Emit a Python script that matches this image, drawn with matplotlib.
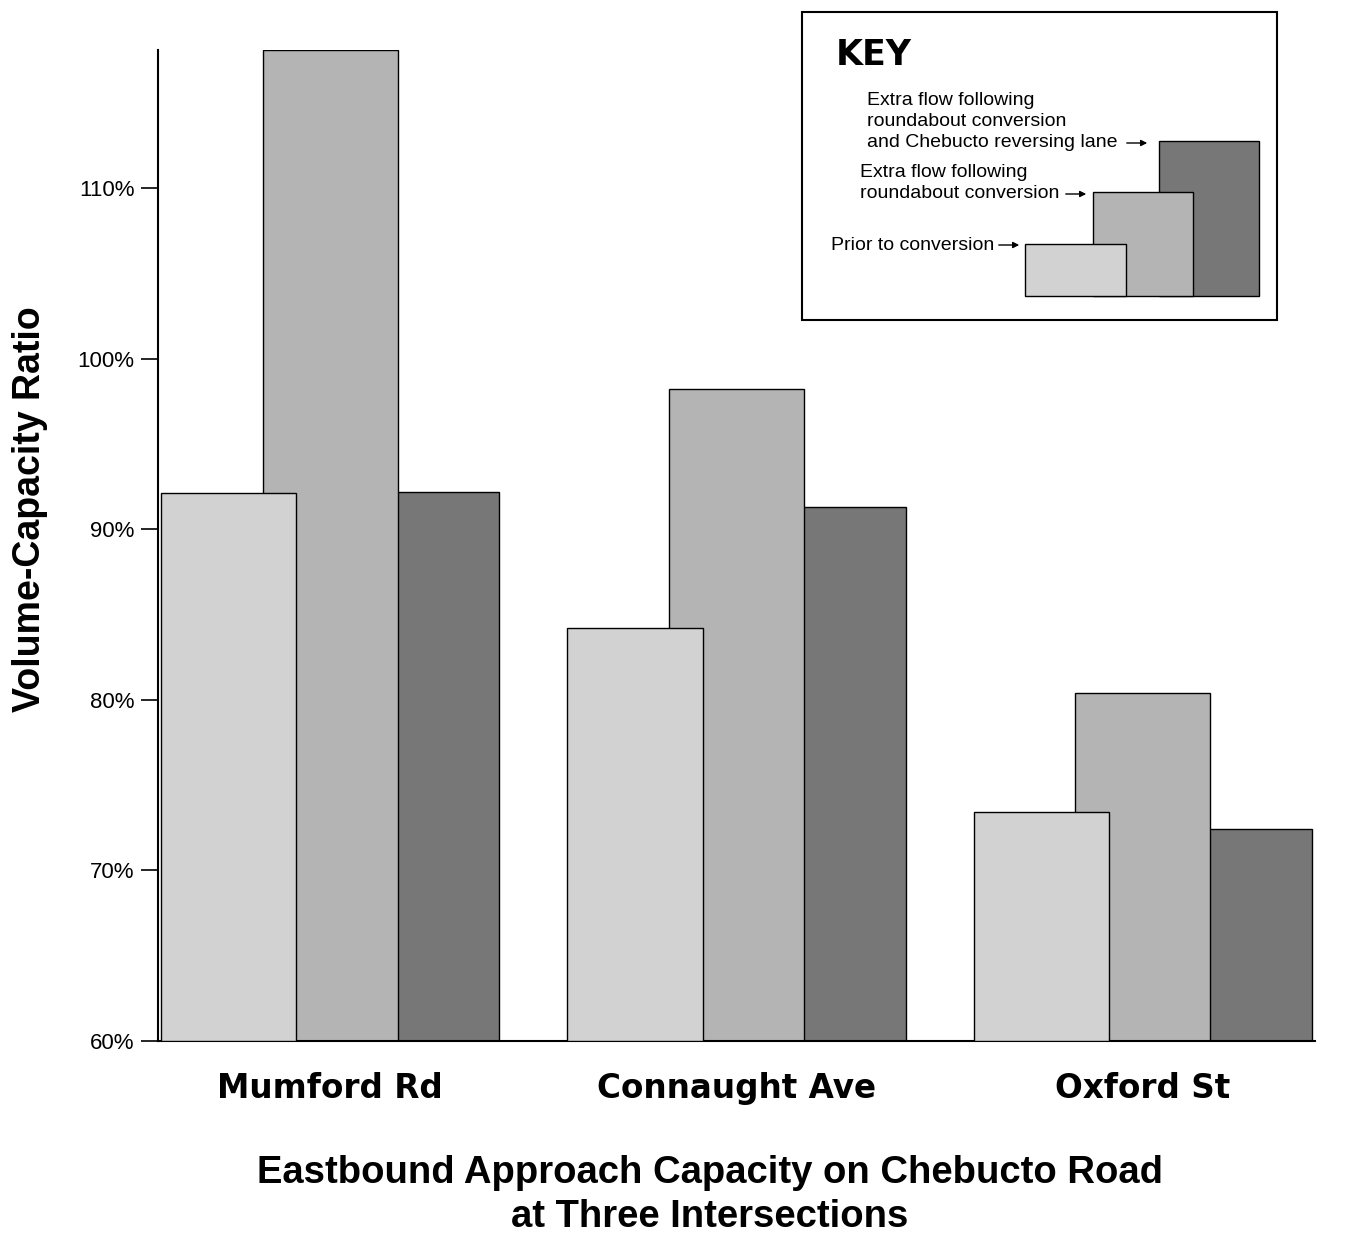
"""Eastbound approach volume-capacity ratio on Chebucto Road, three intersections."""

import matplotlib
matplotlib.use("Agg")
import matplotlib.pyplot as plt
from matplotlib.patches import Rectangle, FancyArrowPatch

# --- data ----------------------------------------------------------------
intersections = ["Mumford Rd", "Connaught Ave", "Oxford St"]
prior = [92.1, 84.2, 73.4]              # prior to conversion
roundabout = [118.1, 98.2, 80.4]        # extra flow following roundabout conversion
reversing = [92.2, 91.3, 72.4]          # ... and Chebucto reversing lane
y_ticks = [60, 70, 80, 90, 100, 110]

series_labels = [
    "Prior to conversion",
    "Extra flow following\nroundabout conversion",
    "Extra flow following\nroundabout conversion\nand Chebucto reversing lane",
]

# --- style ----------------------------------------------------------------
C_PRIOR = "#d2d2d2"
C_ROUND = "#b4b4b4"
C_REV = "#777777"
SANS = ["Liberation Sans", "DejaVu Sans"]
GEO = ["DejaVu Sans"]

W, H = 1350, 1238
fig = plt.figure(figsize=(W / 100, H / 100), dpi=100)


def fx(px):
    return px / W


def fy(py):
    return 1 - py / H


ax = fig.add_axes([fx(158), fy(1041), fx(1315) - fx(158), fy(50) - fy(1041)])

x = list(range(len(intersections)))
width = 0.333
off = 0.25

# back to front: reversing, roundabout, prior
ax.bar([i + off for i in x], [v - 60 for v in reversing], width, bottom=60,
       color=C_REV, edgecolor="black", linewidth=1.0, zorder=1)
ax.bar(x, [v - 60 for v in roundabout], width, bottom=60,
       color=C_ROUND, edgecolor="black", linewidth=1.0, zorder=2)
ax.bar([i - off for i in x], [v - 60 for v in prior], width, bottom=60,
       color=C_PRIOR, edgecolor="black", linewidth=1.0, zorder=3)

ax.set_xlim(-0.424, 2.424)
ax.set_ylim(60, 118.1)

for side in ("top", "right"):
    ax.spines[side].set_visible(False)
for side in ("left", "bottom"):
    ax.spines[side].set_linewidth(1.5)

ax.set_yticks(y_ticks)
ax.set_yticklabels([f"{v}%" for v in y_ticks], family=SANS, fontsize=16)
ax.tick_params(axis="y", length=12, width=1.2, pad=5)

ax.set_xticks(x)
ax.set_xticklabels(intersections, family=GEO, fontsize=23.5, fontweight="bold")
ax.tick_params(axis="x", length=0, pad=22)

fig.text(fx(30), fy(509), "Volume-Capacity Ratio", rotation=90,
         ha="center", va="center", family=SANS, fontsize=27, fontweight="bold")
fig.text(fx(710), fy(1195),
         "Eastbound Approach Capacity on Chebucto Road\nat Three Intersections",
         ha="center", va="center", family=SANS, fontsize=27.5, fontweight="bold",
         linespacing=1.3)

# --- key ------------------------------------------------------------------
fig.add_artist(Rectangle((fx(802), fy(320)), fx(1277) - fx(802), fy(12) - fy(320),
                         transform=fig.transFigure, facecolor="white",
                         edgecolor="black", linewidth=1.5, zorder=5))
fig.text(fx(836), fy(55), "KEY", ha="left", va="center", family=GEO,
         fontsize=25, fontweight="bold", zorder=6)

swatches = [  # (x0, y0, x1, y1) in pixels, drawn back to front
    ((1159, 141, 1259, 296), C_REV),
    ((1093, 192, 1193, 296), C_ROUND),
    ((1025, 244, 1126, 296), C_PRIOR),
]
for z, ((x0, y0, x1, y1), c) in enumerate(swatches):
    fig.add_artist(Rectangle((fx(x0), fy(y1)), fx(x1) - fx(x0), fy(y0) - fy(y1),
                             transform=fig.transFigure, facecolor=c,
                             edgecolor="black", linewidth=1.0, zorder=6 + z))

key_text = [  # (label, left px, center px, arrow y px, arrow x0, arrow x1)
    (series_labels[2], 867, 121.5, 143, 1124, 1150),
    (series_labels[1], 860, 183, 194, 1063, 1089),
    (series_labels[0], 831, 245, 245, 996, 1022),
]
for label, lx, cy, ay, a0, a1 in key_text:
    fig.text(fx(lx), fy(cy), label, ha="left", va="center", family=SANS,
             fontsize=14, linespacing=1.32, zorder=10)
    fig.add_artist(FancyArrowPatch((fx(a0), fy(ay)), (fx(a1), fy(ay)),
                                   transform=fig.transFigure, arrowstyle="-|>",
                                   mutation_scale=9, linewidth=1.0,
                                   color="black", zorder=10))

fig.savefig("out.png", dpi=100)
